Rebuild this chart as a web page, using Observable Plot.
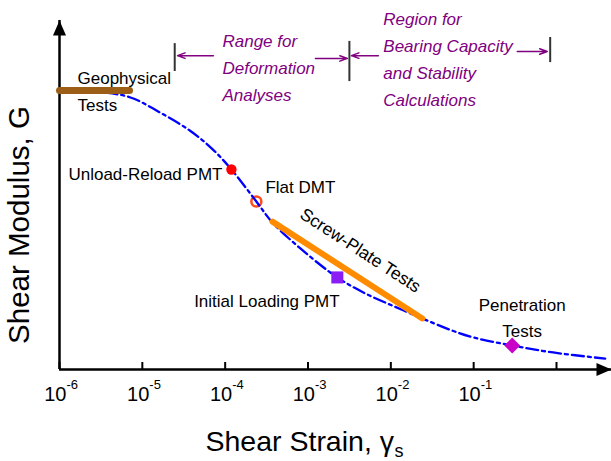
<!DOCTYPE html>
<html><head><meta charset="utf-8">
<script src="https://cdn.jsdelivr.net/npm/d3@7"></script>
<script src="https://cdn.jsdelivr.net/npm/@observablehq/plot@0.6"></script>
<style>body{margin:0;background:#fff;}</style>
</head><body><div id="chart"></div>
<script>
// ---- data ----
const curveStrain = [1e-6, 3.13e-6, 7.2e-6, 1.66e-5, 3.81e-5, 7.02e-5, 1.19e-4, 2.38e-4, 3.72e-4, 8.09e-4, 2.26e-3, 5.20e-3, 1.10e-2, 2.27e-2, 5.22e-2, 9.89e-2, 0.292, 0.912, 3.87];
const curveG      = [1.0, 0.994, 0.975, 0.920, 0.855, 0.790, 0.717, 0.602, 0.527, 0.434, 0.330, 0.269, 0.226, 0.186, 0.142, 0.115, 0.086, 0.061, 0.039];

const geoStrain = [1e-6, 7.0e-6];
const geoG = [1.0, 1.0];

const screwStrain = [3.72e-4, 2.4e-2];
const screwG = [0.530, 0.183];

const markerNames  = ["Unload-Reload PMT", "Flat DMT", "Initial Loading PMT", "Penetration Tests"];
const markerStrain = [1.19e-4, 2.38e-4, 2.26e-3, 0.292];
const markerG      = [0.717, 0.602, 0.330, 0.086];

const tickValues = [1e-6, 1e-5, 1e-4, 1e-3, 1e-2, 1e-1, 1];
const labelTicks = [1e-6, 1e-5, 1e-4, 1e-3, 1e-2, 1e-1];
const tickExponents = ["-6", "-5", "-4", "-3", "-2", "-1"];

const labelTexts  = ["Geophysical\nTests", "Unload-Reload PMT", "Flat DMT", "Initial Loading PMT", "Penetration\nTests"];
const labelStrain = [1.65e-6, 9.27e-5, 3.06e-4, 3.19e-4, 0.385];
const labelG      = [1.006, 0.710, 0.665, 0.254, 0.1935];
const labelAnchor = ["start", "end", "start", "middle", "middle"];

const screwLabel = "Screw-Plate Tests";
const screwLabelStrain = 4.29e-3;
const screwLabelG = 0.4265;

const regionTexts  = ["Range for\nDeformation\nAnalyses", "Region for\nBearing Capacity\nand Stability\nCalculations"];
const regionStrain = [9.27e-5, 8.11e-3];
const regionG      = [1.090, 1.122];

const arrowFrom = [7.21e-5, 1.23e-3, 7.07e-3, 0.336];
const arrowTo   = [2.66e-5, 2.99e-3, 3.34e-3, 0.773];
const arrowG    = [1.125, 1.115, 1.125, 1.140];

const boundStrain = [2.46e-5, 3.16e-3, 0.839];
const boundTop    = [1.168, 1.176, 1.190];
const boundBottom = [1.068, 1.032, 1.100];

// ---- tables ----
const curve = curveStrain.map((s, i) => ({s, g: curveG[i]}));
const geo = geoStrain.map((s, i) => ({s, g: geoG[i]}));
const screw = screwStrain.map((s, i) => ({s, g: screwG[i]}));
const markers = markerNames.map((name, i) => ({name, s: markerStrain[i], g: markerG[i]}));
const labels = labelTexts.map((t, i) => ({t, s: labelStrain[i], g: labelG[i], a: labelAnchor[i]}));
const regions = regionTexts.map((t, i) => ({t, s: regionStrain[i], g: regionG[i]}));
const arrows = arrowFrom.map((f, i) => ({x1: f, x2: arrowTo[i], y: arrowG[i]}));
const bounds = boundStrain.map((s, i) => ({s, y1: boundBottom[i], y2: boundTop[i]}));

const font = "'Liberation Sans', Arial, Helvetica, sans-serif";
const purple = "#800080";

const arrowUp = {draw(ctx) { ctx.moveTo(0, 0); ctx.lineTo(6.5, 15); ctx.lineTo(-6.5, 15); ctx.closePath(); }};
const arrowRight = {draw(ctx) { ctx.moveTo(0, 0); ctx.lineTo(-15, -6.5); ctx.lineTo(-15, 6.5); ctx.closePath(); }};
const diamond = {draw(ctx, size) { const r = Math.sqrt(size / Math.PI); ctx.moveTo(0, -r); ctx.lineTo(r, 0); ctx.lineTo(0, r); ctx.lineTo(-r, 0); ctx.closePath(); }};

const byName = (n) => markers.filter(d => d.name === n);
const labelMark = (anchor) => Plot.text(labels.filter(d => d.a === anchor), {x: "s", y: "g", text: "t", textAnchor: anchor, lineAnchor: "middle", lineHeight: 1.57, fontSize: 17, fill: "black"});

const chart = Plot.plot({
  width: 611,
  height: 461,
  marginLeft: 59,
  marginRight: 0,
  marginTop: 20,
  marginBottom: 92,
  x: {type: "log", domain: [1e-6, 1], range: [59, 556], axis: null},
  y: {domain: [0, 1], range: [369, 90], axis: null},
  style: {fontFamily: font, background: "white", color: "black"},
  marks: [
    // axes
    Plot.ruleY([0], {stroke: "black", strokeWidth: 2.5}),
    Plot.ruleX([1e-6], {stroke: "black", strokeWidth: 2.5}),
    Plot.dot([0], {frameAnchor: "top-left", symbol: arrowUp, fill: "black", stroke: "none"}),
    Plot.dot([0], {frameAnchor: "bottom-right", symbol: arrowRight, fill: "black", stroke: "none"}),
    Plot.ruleX(tickValues, {x: d => d, y1: 0, y2: 0, insetTop: -7, stroke: "black", strokeWidth: 2}),
    Plot.text(labelTicks, {x: d => d, y: 0, text: () => "10", textAnchor: "end", lineAnchor: "bottom", dx: 7, dy: 31, fontSize: 20}),
    Plot.text(labelTicks, {x: d => d, y: 0, text: (d, i) => tickExponents[i], textAnchor: "start", lineAnchor: "bottom", dx: 7, dy: 19.5, fontSize: 13}),
    Plot.text(["Shear Strain, γ"], {frameAnchor: "bottom-left", text: d => d, textAnchor: "end", lineAnchor: "bottom", dx: 334.5, dy: 81.5, fontSize: 28.5}),
    Plot.text(["s"], {frameAnchor: "bottom-left", text: d => d, textAnchor: "start", lineAnchor: "bottom", dx: 335, dy: 87, fontSize: 18}),
    Plot.text(["Shear Modulus, G"], {frameAnchor: "left", text: d => d, rotate: -90, textAnchor: "middle", lineAnchor: "bottom", dx: -31, dy: 30, fontSize: 29.5}),

    // data
    Plot.dot(byName("Flat DMT"), {x: "s", y: "g", r: 5, fill: "white", stroke: "#ff4a1a", strokeWidth: 2.5}),
    Plot.line(curve, {x: "s", y: "g", curve: "catmull-rom", stroke: "#0000ff", strokeWidth: 2.3, strokeDasharray: "12,4,3,4"}),
    Plot.line(geo, {x: "s", y: "g", stroke: "#9c5e17", strokeWidth: 7}),
    Plot.line(screw, {x: "s", y: "g", stroke: "#ff8c00", strokeWidth: 6, strokeLinecap: "round"}),
    Plot.dot(byName("Unload-Reload PMT"), {x: "s", y: "g", r: 5.2, fill: "#ff0000", stroke: "none"}),
    Plot.dot(byName("Initial Loading PMT"), {x: "s", y: "g", r: 6.8, symbol: "square", fill: "#8a1cf5", stroke: "none"}),
    Plot.dot(byName("Penetration Tests"), {x: "s", y: "g", r: 8, symbol: diamond, fill: "#c800c8", stroke: "none"}),

    // labels
    labelMark("start"),
    labelMark("end"),
    labelMark("middle"),
    Plot.text([screwLabel], {x: () => screwLabelStrain, y: () => screwLabelG, text: d => d, rotate: 33, textAnchor: "middle", lineAnchor: "middle", fontSize: 17.5, fill: "black"}),

    // annotations
    Plot.ruleX(bounds, {x: "s", y1: "y1", y2: "y2", stroke: "#333", strokeWidth: 2}),
    Plot.arrow(arrows, {x1: "x1", x2: "x2", y1: "y", y2: "y", stroke: purple, strokeWidth: 1.5, headLength: 8, headAngle: 40}),
    Plot.text(regions, {x: "s", y: "g", text: "t", textAnchor: "start", lineAnchor: "middle", lineHeight: 1.59, fontSize: 17, fontStyle: "italic", fill: purple})
  ]
});
document.getElementById("chart").appendChild(chart);
</script>
</body></html>
